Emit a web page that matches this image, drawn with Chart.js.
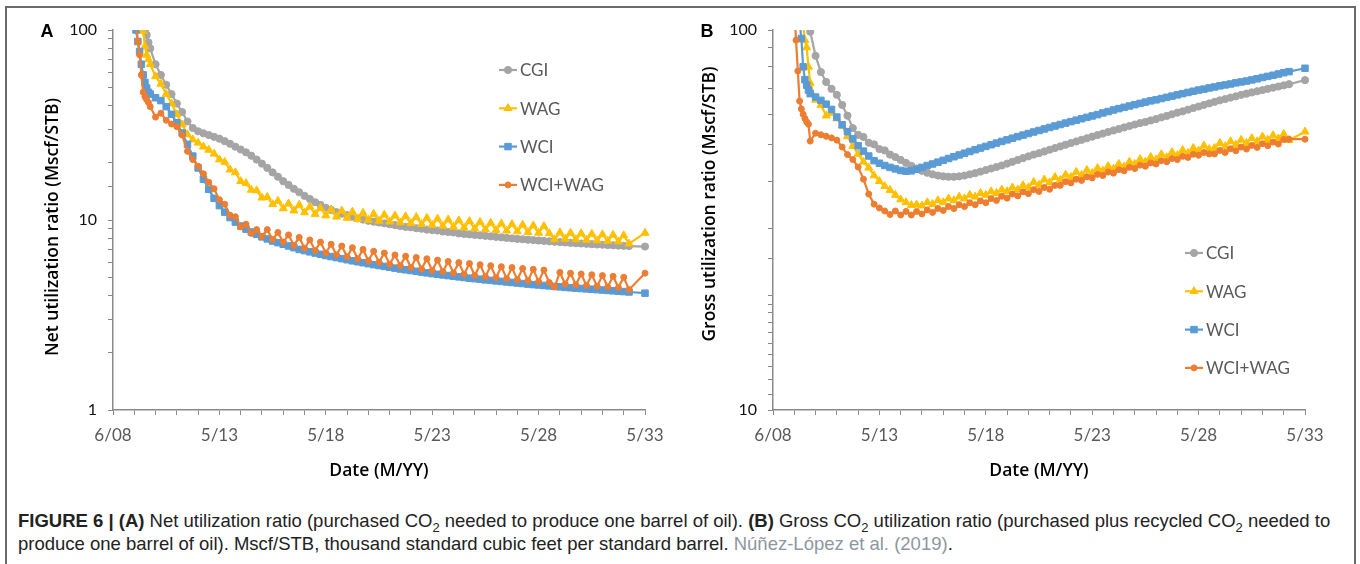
<!DOCTYPE html>
<html><head><meta charset="utf-8">
<script src="https://cdn.jsdelivr.net/npm/chart.js@4.4.1/dist/chart.umd.min.js"></script>
<style>
html,body{margin:0;padding:0;background:#fff;}
#wrap{position:relative;width:1360px;height:564px;overflow:hidden;background:#fff;}
#frame{position:absolute;left:5px;top:6px;width:1347px;height:620px;border:2px solid #6a6a6a;border-bottom:none;}
canvas{position:absolute;top:0;}
#cA{left:0;} #cB{left:680px;}
.lbl{position:absolute;font-family:'Liberation Sans',Arial,sans-serif;font-weight:bold;font-size:18px;color:#000;line-height:1;transform:translate(-50%,-50%);}
.ytitle{position:absolute;font-family:'Open Sans',sans-serif;font-weight:600;font-size:17.5px;color:#000;white-space:nowrap;transform:translate(-50%,-50%) rotate(-90deg);line-height:1;}
.xtitle{position:absolute;font-family:'Open Sans',sans-serif;font-weight:600;font-size:17.5px;color:#000;white-space:nowrap;transform:translate(-50%,-50%);line-height:1;}
#cap{position:absolute;left:18px;top:509px;font-family:'Liberation Sans',Arial,sans-serif;font-size:18.5px;line-height:23px;color:#222;white-space:nowrap;}
#cap b{font-weight:bold;}
#cap sub{font-size:13px;line-height:0;}
#cap .cite{color:#8d97a0;}
</style></head>
<body>
<div id="wrap">
  <div id="frame"></div>
  <canvas id="cA" width="680" height="500"></canvas>
  <canvas id="cB" width="680" height="500"></canvas>
  <div class="lbl" style="left:47px;top:31px;">A</div>
  <div class="lbl" style="left:707px;top:31px;">B</div>
  <div class="ytitle" style="left:52px;top:227px;">Net utilization ratio (Mscf/STB)</div>
  <div class="ytitle" style="left:709px;top:204px;">Gross utilization ratio (Mscf/STB)</div>
  <div class="xtitle" style="left:379px;top:470px;">Date (M/YY)</div>
  <div class="xtitle" style="left:1039px;top:470px;">Date (M/YY)</div>
  <div id="cap"><b>FIGURE 6 | (A)</b> Net utilization ratio (purchased CO<sub>2</sub> needed to produce one barrel of oil). <b>(B)</b> Gross CO<sub>2</sub> utilization ratio (purchased plus recycled CO<sub>2</sub> needed to<br>produce one barrel of oil). Mscf/STB, thousand standard cubic feet per standard barrel. <span class="cite">Núñez-López et al. (2019)</span>.</div>
</div>
<script>
// time in years after 6/08 (x axis), shared by all series
const T = [1.0,1.083,1.167,1.25,1.333,1.417,1.5,1.583,1.667,1.75,2.0,2.25,2.5,2.75,3.0,3.25,3.5,3.75,4.0,4.25,4.5,4.75,5.0,5.25,5.5,5.75,6.0,6.25,6.5,6.75,7.0,7.25,7.5,7.75,8.0,8.25,8.5,8.75,9.0,9.25,9.5,9.75,10.0,10.25,10.5,10.75,11.0,11.25,11.5,11.75,12.0,12.25,12.5,12.75,13.0,13.25,13.5,13.75,14.0,14.25,14.5,14.75,15.0,15.25,15.5,15.75,16.0,16.25,16.5,16.75,17.0,17.25,17.5,17.75,18.0,18.25,18.5,18.75,19.0,19.25,19.5,19.75,20.0,20.25,20.5,20.75,21.0,21.25,21.5,21.75,22.0,22.25,22.5,22.75,23.0,23.25,23.5,23.75,24.0,24.25,25.0];
const xTickLabels = ['6/08','5/13','5/18','5/23','5/28','5/33'];
const yLabelValues = [1, 10, 100];
const seriesNames = ['CGI','WAG','WCI','WCI+WAG'];

// (A) Net utilization ratio
const netCGI = [250,190,160,135,118,108,100,94,86,80,66,58,51.5,46,41,37,33,30.5,29.3,28.6,28,27.4,26.8,26,25.2,24.3,23.5,22.7,21.8,20.8,19.8,18.8,17.8,16.9,16,15.3,14.6,14,13.4,12.9,12.4,12,11.6,11.3,11,10.8,10.6,10.4,10.2,10.05,9.9,9.8,9.7,9.6,9.5,9.4,9.3,9.2,9.15,9.05,9,8.9,8.85,8.8,8.7,8.65,8.6,8.5,8.45,8.4,8.35,8.3,8.25,8.2,8.15,8.1,8.05,8,7.95,7.92,7.88,7.84,7.8,7.76,7.72,7.68,7.65,7.62,7.58,7.55,7.52,7.49,7.46,7.43,7.41,7.38,7.36,7.33,7.31,7.29,7.25];
const netWAG = [300,220,170,140,115,99,82,74,70,66,57,52,46,41,36,31.8,28.2,26.5,25.5,24.3,23.4,22.3,20.8,20.2,18.4,17.8,16,15.6,14.4,14.3,13.1,13.2,12.1,12.6,11.5,12.2,11.2,12,10.95,11.75,10.75,11.55,10.55,11.35,10.4,11.2,10.25,11.05,10.1,10.9,10,10.75,9.9,10.65,9.8,10.55,9.7,10.45,9.6,10.35,9.5,10.25,9.4,10.15,9.3,10.05,9.2,9.95,9.1,9.85,9,9.75,8.92,9.65,8.85,9.57,8.78,9.5,8.7,9.42,8.63,9.35,8.56,9.28,8.5,7.9,8.6,7.95,8.55,7.9,8.5,7.85,8.45,7.8,8.4,7.75,8.35,7.7,8.3,7.5,8.55];
const netWCI = [130,100,87,77,66,58,53,49.5,47,46,44,42.5,39.5,36,32.5,28.7,25,21.7,18.8,16.4,14.5,13,11.9,11,10.3,9.75,9.3,8.95,8.65,8.4,8.15,7.95,7.75,7.6,7.45,7.3,7.15,7,6.9,6.8,6.7,6.6,6.5,6.42,6.34,6.26,6.18,6.1,6.03,5.96,5.89,5.82,5.76,5.7,5.64,5.58,5.52,5.47,5.42,5.37,5.32,5.27,5.22,5.18,5.14,5.1,5.06,5.02,4.98,4.94,4.91,4.88,4.84,4.81,4.78,4.75,4.72,4.69,4.66,4.63,4.6,4.57,4.55,4.52,4.5,4.47,4.45,4.42,4.4,4.38,4.36,4.34,4.32,4.3,4.28,4.26,4.24,4.22,4.2,4.18,4.12];
const netWCIWAG = [140,110,87,74,58,47,44.5,43,41.5,39.5,34.8,36.5,33.5,32,31,28,23,20.8,19.2,17.5,15.8,14.6,12.8,12.1,10.6,10.4,9.2,9.5,8.5,8.9,8.2,8.9,7.9,8.6,7.65,8.35,7.35,8.1,7.1,7.85,6.9,7.65,6.7,7.45,6.55,7.3,6.4,7.15,6.25,7,6.1,6.85,6,6.7,5.85,6.55,5.75,6.45,5.62,6.35,5.52,6.25,5.42,6.15,5.34,6.05,5.26,5.97,5.18,5.9,5.1,5.82,5.03,5.75,4.97,5.68,4.91,5.62,4.85,5.56,4.79,5.5,4.74,5.45,4.69,4.45,5.3,4.6,5.25,4.56,5.2,4.52,5.15,4.48,5.1,4.44,5.05,4.41,5,4.3,5.25];

// (B) Gross utilization ratio
const grossCGI = [250,200,170,150,135,122,112,106,102,99,85.5,77.5,73,70,67.5,63.5,59.5,55.2,53,52.3,50.5,50,48.6,48.2,47,46.3,45.5,44.7,43.9,43.2,42.6,42.1,41.7,41.4,41.2,41.1,41.1,41.2,41.4,41.7,42,42.4,42.8,43.2,43.6,44,44.5,45,45.5,46,46.5,47,47.4,47.9,48.4,48.9,49.4,49.9,50.4,50.9,51.4,51.9,52.4,52.9,53.4,53.9,54.4,54.9,55.4,55.9,56.4,56.9,57.3,57.8,58.3,58.9,59.4,60,60.6,61.1,61.7,62.3,62.9,63.5,64.1,64.7,65.3,65.8,66.4,66.9,67.5,68,68.5,69,69.5,70,70.5,71,71.5,72,73.8];
const grossWAG = [250,200,160,130,112,103,94,90,80,72.5,65.5,63.5,59.5,60.5,58.5,56,52.5,49.5,47.2,45,43.4,41.4,40,38.8,37.9,36.8,35.8,35.2,34.6,34.7,34.5,35.2,34.8,35.6,35.2,36,35.6,36.4,36,36.8,36.4,37.2,36.8,37.6,37.2,38,37.6,38.5,38,39,38.5,39.8,39.1,40.4,39.7,41,40.3,41.6,41,42.3,41.5,42.8,42,43.3,42.6,43.8,43.1,44.4,43.7,45,44.4,45.7,45,46.3,45.6,47.1,46.2,47.7,46.8,48.3,47.4,48.9,48.1,49.6,48.6,48.9,50.4,49.4,50.9,49.9,51.4,50.4,51.9,50.9,52.4,51.4,52.8,51.8,53.2,51.3,54];
const grossWCI = [150,130,115,105,95,80,74,71.6,69.5,68,66.6,65.3,63.8,61.8,59,56.3,54,51.7,49.6,48,46.6,45.3,44.6,44,43.5,43.1,42.7,42.5,42.6,43,43.5,44,44.4,44.9,45.4,45.9,46.4,46.9,47.4,47.9,48.4,48.9,49.4,49.9,50.4,50.9,51.4,51.9,52.4,52.9,53.4,53.9,54.4,54.9,55.4,55.9,56.4,56.9,57.4,57.9,58.4,58.9,59.4,59.9,60.5,61,61.6,62.1,62.6,63.1,63.6,64.1,64.6,65.1,65.5,66,66.5,67,67.5,68,68.5,69,69.5,69.9,70.4,70.8,71.3,71.7,72.1,72.6,73,73.4,73.9,74.4,75,75.5,76,76.6,77.2,77.7,79.3];
const grossWCIWAG = [115,94,78,65,62,60,58.5,57.3,56.5,51,53.5,53,52.5,52,51.3,49.2,47,45.6,43.6,40.5,37,34.8,34,33.4,32.7,33.4,32.6,33.3,32.6,33.3,32.8,33.6,33.1,33.9,33.5,34.3,33.9,34.7,34.3,35.1,34.7,35.5,35.1,36,35.6,36.5,36.1,37,36.6,37.5,37.1,38,37.6,38.5,38.1,39,39,39.9,39.6,40.5,40.2,41.1,40.8,41.7,41.4,42.3,42,42.9,42.6,43.5,43.2,44.1,43.8,44.7,44.4,45.3,45,45.9,45.6,46.5,46.2,47.1,46.8,47.6,47.2,47.2,48.2,47.6,48.7,48.1,49.2,48.6,49.7,49.1,50.2,49.6,50.7,50.1,51.5,51.6,51.6];

const COLORS = ['#A5A5A5','#FFC000','#5B9BD5','#ED7D31'];
const STYLES = ['circle','triangle','rect','circle'];
const RADII = [3.6, 4.6, 4.6, 3.0];
const AXIS = '#8a8a8a';

const excelLegend = {
  id: 'excelLegend',
  afterDraw(chart, args, opts) {
    const ctx = chart.ctx;
    ctx.save();
    chart.data.datasets.forEach((ds, i) => {
      const y = opts.y + i * opts.gap, x = opts.x;
      ctx.strokeStyle = ds.borderColor; ctx.lineWidth = 2.2;
      ctx.beginPath(); ctx.moveTo(x, y); ctx.lineTo(x + 18, y); ctx.stroke();
      ctx.fillStyle = ds.pointBackgroundColor; ctx.strokeStyle = ds.pointBorderColor; ctx.lineWidth = 1;
      Chart.helpers.drawPoint(ctx, {pointStyle: ds.pointStyle, rotation: 0, borderWidth: 1, radius: ds.pointRadius}, x + 9, y);
      ctx.fillStyle = '#595959'; ctx.font = '17px Lato'; ctx.textBaseline = 'middle'; ctx.textAlign = 'left';
      ctx.fillText(ds.label, x + 21, y + 1);
    });
    ctx.restore();
  }
};

function makeChart(id, series, cfg) {
  return new Chart(document.getElementById(id), {
    type: 'line',
    data: {
      datasets: series.map((vals, k) => ({
        label: seriesNames[k],
        data: T.map((t, i) => ({x: t, y: vals[i]})),
        borderColor: COLORS[k], backgroundColor: COLORS[k],
        pointBackgroundColor: COLORS[k], pointBorderColor: COLORS[k],
        pointStyle: STYLES[k], pointRadius: RADII[k], pointBorderWidth: 1,
        borderWidth: 2.2, tension: 0, fill: false, order: 4 - k,
        clip: {left: 6, right: 8, top: 0, bottom: 6}
      }))
    },
    options: {
      responsive: false, animation: false, devicePixelRatio: 1,
      layout: {padding: {top: 30, right: cfg.padRight, left: 0, bottom: 0}},
      plugins: {legend: {display: false}, tooltip: {enabled: false},
        excelLegend: {x: cfg.legX, y: cfg.legY, gap: 38.3}},
      scales: {
        x: {
          type: 'linear', min: 0, max: 25,
          afterFit(s) { s.height = 90; },
          border: {display: true, color: AXIS, width: 1.5},
          grid: {display: true, drawOnChartArea: false, drawTicks: true, tickLength: 5, color: AXIS},
          ticks: {stepSize: 1, maxTicksLimit: 30, autoSkip: false, maxRotation: 0, minRotation: 0, padding: 10,
            color: '#595959', font: {family: 'Lato', size: 17},
            callback: (v) => (v % 5 === 0 ? xTickLabels[v / 5] : '')}
        },
        y: {
          type: 'logarithmic', min: cfg.yMin, max: 100,
          afterFit(s) { s.width = cfg.axisW; },
          border: {display: true, color: AXIS, width: 1.5},
          grid: {display: true, drawOnChartArea: false, drawTicks: true, tickLength: 5, color: AXIS},
          ticks: {autoSkip: false, padding: 11, color: '#111', font: {family: 'Lato', size: 16},
            major: {enabled: false},
            callback: (v) => (yLabelValues.includes(v) ? String(v) : '')}
        }
      }
    },
    plugins: [excelLegend]
  });
}

makeChart('cA', [netCGI, netWAG, netWCI, netWCIWAG], {yMin: 1, axisW: 113, padRight: 35, legX: 499, legY: 70});
makeChart('cB', [grossCGI, grossWAG, grossWCI, grossWCIWAG], {yMin: 10, axisW: 93, padRight: 55, legX: 505, legY: 253});
</script>
</body></html>
